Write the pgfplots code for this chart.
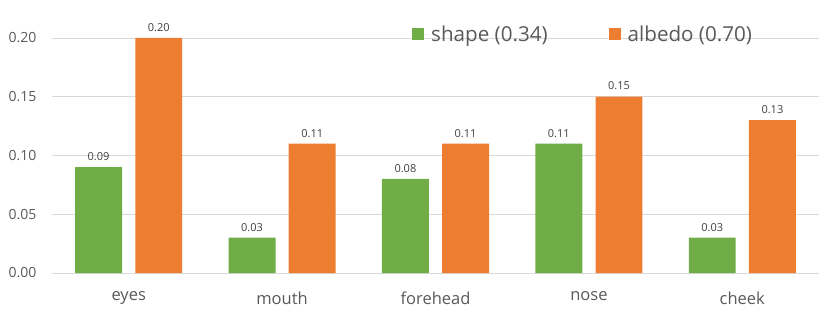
\documentclass[border=0pt]{standalone}
\usepackage{pgfplots}
\pgfplotsset{compat=1.18}
\usepackage{fontspec}
\setmainfont{Open Sans}
\definecolor{cgreen}{HTML}{70AD47}
\definecolor{corange}{HTML}{ED7D31}
\definecolor{cgrid}{HTML}{D9D9D9}
\definecolor{ctext}{HTML}{595959}
\definecolor{clab}{HTML}{404040}
\begin{document}
\begin{tikzpicture}
\begin{axis}[
  scale only axis,
  width=767pt, height=268pt,
  xmin=-0.5, xmax=4.5,
  ymin=0, ymax=0.228,
  axis line style={draw=none},
  xtick={0,1,2,3,4},
  xticklabels={eyes,mouth,forehead,nose,cheek},
  ytick={0,0.05,0.10,0.15,0.20},
  ymajorgrids,
  grid style={cgrid, line width=0.8pt},
  major tick length=0pt,
  tick style={draw=none},
  /pgf/number format/assume math mode=true,
  yticklabel style={/pgf/number format/fixed, /pgf/number format/fixed zerofill, /pgf/number format/precision=2, font=\fontsize{14}{16}\selectfont, text=ctext},
  xticklabel style={font=\fontsize{16.5}{18}\selectfont, text=ctext},
  scaled y ticks=false,
  yticklabel shift=12pt,
  xticklabel shift=15pt,
  every node near coord/.append style={font=\fontsize{11}{13}\selectfont, text=clab, /pgf/number format/fixed, /pgf/number format/fixed zerofill, /pgf/number format/precision=2, /pgf/number format/assume math mode=true, yshift=3pt},
  legend style={draw=none, fill=none, at={(0.4655,0.89)}, anchor=west, font=\fontsize{20.6}{22}\selectfont, text=ctext, legend columns=2, /tikz/every even column/.append style={column sep=59pt}},
  legend image code/.code={\draw[#1, draw=none] (0pt,-5.5pt) rectangle (12pt,6.5pt); \path (12pt,0pt) -- (17pt,0pt);},
]
\draw[cgrid, line width=0.8pt] (axis cs:-0.5,0) -- (axis cs:4.5,0);
\addplot[ybar, bar width=0.306, bar shift=-0.196, fill=cgreen, draw=none, nodes near coords, every node near coord/.append style={xshift=-30.1pt}] coordinates {(0,0.09) (1,0.03) (2,0.08) (3,0.11) (4,0.03)};
\addplot[ybar, bar width=0.306, bar shift=0.196, fill=corange, draw=none, nodes near coords, every node near coord/.append style={xshift=30.1pt}] coordinates {(0,0.20) (1,0.11) (2,0.11) (3,0.15) (4,0.13)};
\legend{shape (0.34), albedo (0.70)}
\end{axis}
\pgfresetboundingbox
\path (current axis.south west) ++(-52pt,-41pt) coordinate (bl);
\path (current axis.north east) ++(11pt,5pt) coordinate (tr);
\path (bl) rectangle (tr);
\end{tikzpicture}
\end{document}
